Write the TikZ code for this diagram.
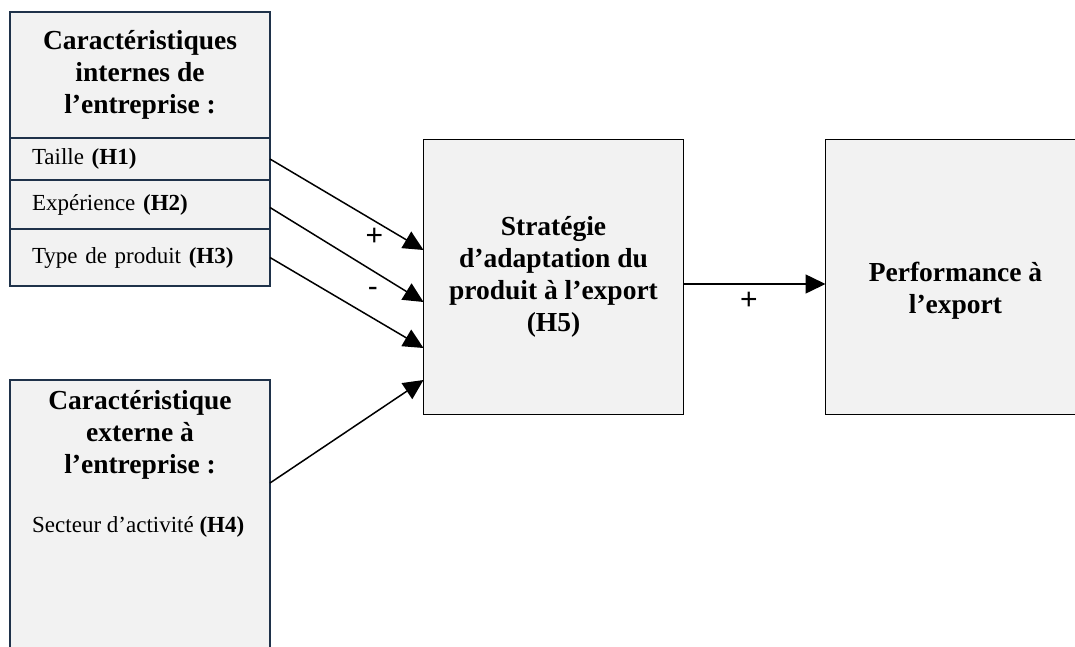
\documentclass[tikz,border=0pt]{standalone}
\usepackage{fontspec}
\setmainfont{Liberation Serif}
\newfontfamily\signfont{Liberation Sans}
\usetikzlibrary{arrows.meta, positioning, calc}
\definecolor{boxfill}{HTML}{F2F2F2}
\definecolor{navy}{HTML}{1F324A}

\begin{document}
\begin{tikzpicture}[
    x = 1pt, y = -1pt,
    box/.style = {
        rectangle, draw=black, line width=1.2pt,
        fill = boxfill,
        outer sep = 0pt, inner sep = 0pt,
        minimum width = 260pt
    },
    leftbox/.style  = { box, draw = navy },
    boxtitle/.style = { font = \fontsize{27.5}{32}\selectfont\bfseries, align = center },
    rowbox/.style   = {
        leftbox, font = \fontsize{23}{26}\selectfont,
        text width = 216pt, inner xsep = 22pt, align = left
    },
    effect/.style    = { -{Triangle[length=20pt, width=19pt]}, line width=1.5pt },
    signlabel/.style = { font = \signfont\fontsize{30}{30}\selectfont },
]

\useasboundingbox (0,0) rectangle (1075,646);
\clip (0,0) rectangle (1075,646);

%% ── Internal characteristics ─────────────────────────────────────────────
\node[leftbox, boxtitle, minimum height=126pt] (internes) at (140,75)
    {Caractéristiques\\internes de\\l’entreprise :};
\node[rowbox, minimum height=42pt, below=0pt of internes] (taille)
    {Taille \textbf{(H1)}};
\node[rowbox, minimum height=49pt, below=0pt of taille] (experience)
    {Expérience \textbf{(H2)}};
\node[rowbox, minimum height=57pt, below=0pt of experience] (produit)
    {Type de produit \textbf{(H3)}};

%% ── External characteristic ──────────────────────────────────────────────
\node[leftbox, minimum height=280pt] (externe) at (140,520) {};
\node[boxtitle] (externe titre) at (140,435)
    {Caractéristique\\externe à\\l’entreprise :};
\node[font=\fontsize{23}{26}\selectfont, anchor=west, inner sep=0pt] (secteur) at (32,527)
    {Secteur d’activité \textbf{(H4)}};

%% ── Strategy and performance ─────────────────────────────────────────────
\node[box, boxtitle, minimum height=275pt] (strategie) at (553.5,277)
    {Stratégie\\d’adaptation du\\produit à l’export\\(H5)};
\node[box, minimum height=275pt, right=142pt of strategie] (performance) {};
\node[boxtitle] (performance titre) at ([yshift=-14pt]performance.center)
    {Performance à\\l’export};

%% ── Hypothesised effects ─────────────────────────────────────────────────
\draw[effect] (taille.east) -- ([yshift=27pt]strategie.west)
    node[signlabel, pos=0.68, yshift=-16pt] (signe taille) {+};
\draw[effect] ([yshift=-3pt]experience.east) -- ([yshift=-25pt]strategie.west)
    node[signlabel, pos=0.67, yshift=-21pt] (signe experience) {-};
\draw[effect] (produit.east) -- ([yshift=-71pt]strategie.west);
\draw[effect] ([yshift=37pt]externe.east) -- ([yshift=-103pt]strategie.west);

\draw[effect] ([yshift=-7pt]strategie.east) -- ([yshift=-7pt]performance.west)
    node[signlabel, pos=0.46, yshift=-17pt] (signe performance) {+};

\end{tikzpicture}
\end{document}
